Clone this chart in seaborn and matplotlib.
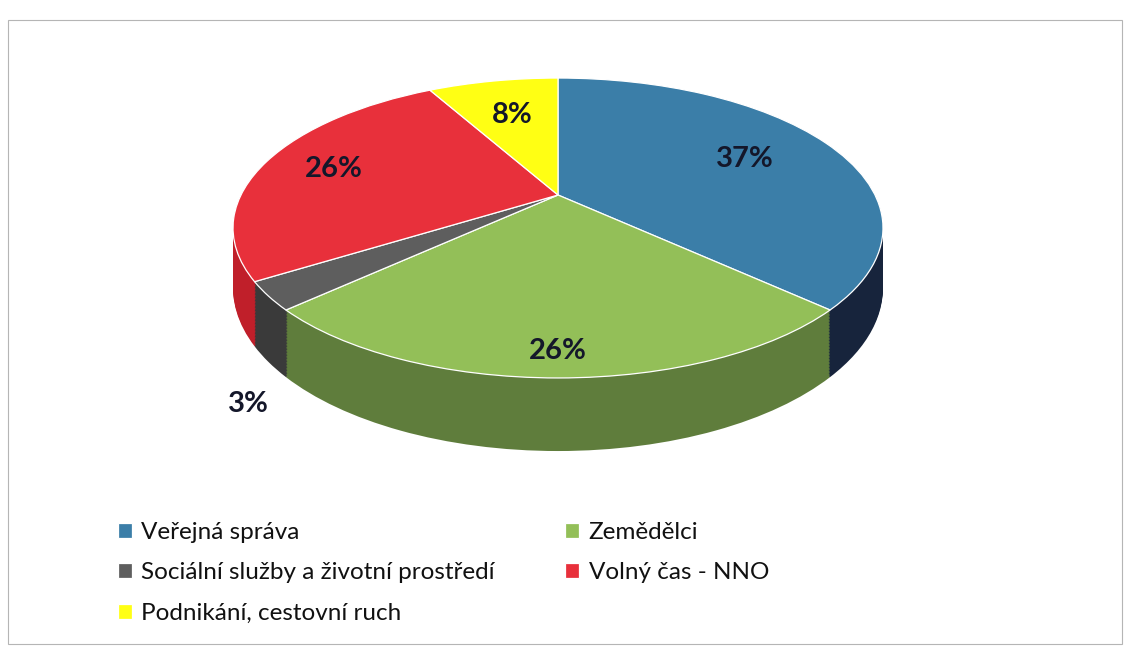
import numpy as np
import matplotlib.pyplot as plt
from matplotlib.transforms import Transform
from matplotlib.patches import Rectangle
import seaborn as sns

# data
categories = ['Veřejná správa', 'Zemědělci', 'Sociální služby a životní prostředí',
              'Volný čas - NNO', 'Podnikání, cestovní ruch']
shares = [37, 26, 3, 26, 8]

top_colors = ['#3b7ea8', '#93bf58', '#5e5e5e', '#e8303b', '#ffff14']
side_colors = ['#17243c', '#5f7d3c', '#3a3a3a', '#c01f2a', '#c8c810']

sns.set_theme(style='white')
plt.rcParams['font.family'] = ['Lato', 'DejaVu Sans']

W, H = 1126, 647
# perspective of the tilted disc (pixels)
CX, CY, RX, RY, K = 558, 195, 317, 142.7, 0.22
DEPTH = 57


class Tilt(Transform):
    """Project the flat unit pie onto a tilted disc seen in perspective."""
    input_dims = output_dims = 2
    is_separable = False
    has_inverse = False

    def __init__(self, drop=0.0):
        super().__init__()
        self.drop = drop

    def transform_non_affine(self, xy):
        xy = np.asarray(xy, dtype=float)
        u, v = xy[:, 0], xy[:, 1]
        w = 1 + K * v
        return np.column_stack([CX + RX * u / w, CY - RY * v / w + self.drop / w])


fig = plt.figure(figsize=(W / 100, H / 100), dpi=100)
ax = fig.add_axes([0, 0, 1, 1])

# side of the cake: stacked layers from the bottom up
for d in np.linspace(DEPTH, 1, 45):
    side, _ = ax.pie(shares, colors=side_colors, startangle=90, counterclock=False,
                     wedgeprops=dict(linewidth=0))
    for w in side:
        w.set_transform(Tilt(d) + ax.transData)

# top face
top, _ = ax.pie(shares, colors=top_colors, startangle=90, counterclock=False,
                wedgeprops=dict(edgecolor='white', linewidth=0.9))
for w in top:
    w.set_transform(Tilt(0) + ax.transData)

# percentage labels
label_r = [0.68, 0.88, 1.06, 0.76, 0.66]
for w, s, r in zip(top, shares, label_r):
    a = np.deg2rad((w.theta1 + w.theta2) / 2)
    drop = DEPTH * 1.52 if r > 1 else 0
    x, y = Tilt(drop).transform([[r * np.cos(a), r * np.sin(a)]])[0]
    ax.text(x, y, f'{s}%', ha='center', va='center', fontsize=21,
            fontweight='bold', color='#14172a')

ax.set_aspect('auto')
ax.set_xlim(0, W)
ax.set_ylim(H, 0)
ax.axis('off')

order = [0, 2, 4, 1, 3]
fig.legend([top[i] for i in order], [categories[i] for i in order],
           ncol=2, loc='upper left', bbox_to_anchor=(118 / W, 1 - 522 / H),
           frameon=False, fontsize=17.5, handlelength=0.58, handleheight=0.58,
           handletextpad=0.38, columnspacing=2.9, labelspacing=0.8,
           borderpad=0, borderaxespad=0, labelcolor='#111111')

# thin frame of the scanned chart area
fig.patches.append(Rectangle((8 / W, 3 / H), 1114 / W, 624 / H, transform=fig.transFigure,
                             fill=False, edgecolor='#b5b5b5', linewidth=0.8))

fig.savefig('out.png', dpi=100, facecolor='white')
